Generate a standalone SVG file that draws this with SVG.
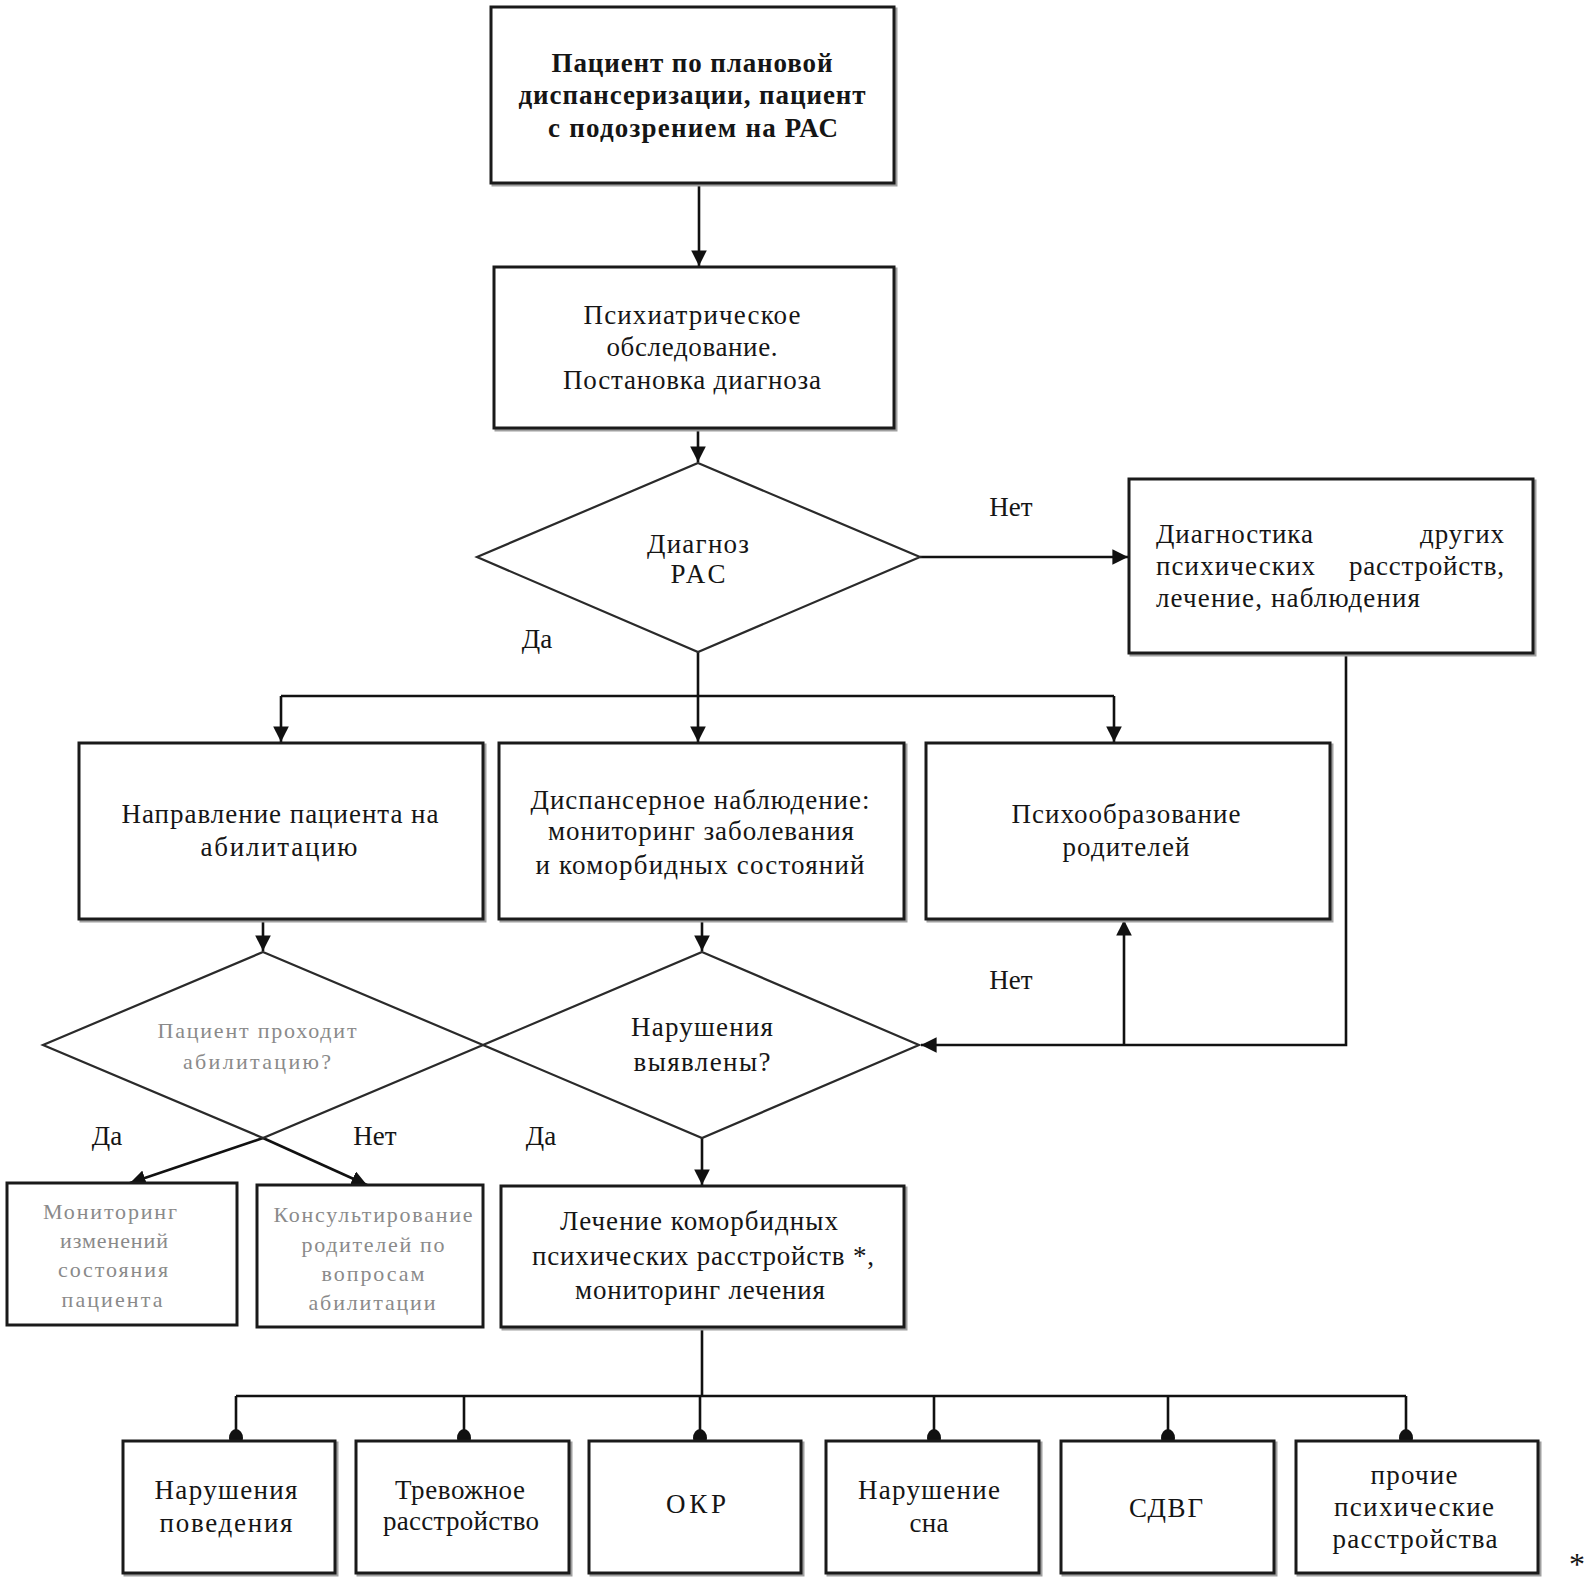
<svg xmlns="http://www.w3.org/2000/svg" width="1590" height="1582" viewBox="0 0 1590 1582">
<style>
.bx{fill:#fff;stroke:#1a1a1a;stroke-width:3}
.sh{fill:none;stroke:#a0a0a0;stroke-width:3}
.dm{fill:none;stroke:#2a2a2a;stroke-width:2.2}
.ln{fill:none;stroke:#111;stroke-width:2.6}
.t{font-family:"Liberation Serif","Times New Roman",serif;font-size:27px;fill:#151515;text-anchor:middle}
.l{text-anchor:start}
.r{text-anchor:end}
.b{font-weight:bold}
.g{font-size:22px;fill:#8a8a8a}
</style>
<defs>
<marker id="ah" viewBox="0 0 10 10" refX="10" refY="5" markerWidth="6" markerHeight="6" markerUnits="strokeWidth" orient="auto">
<path d="M0,0 L10,5 L0,10 Z" fill="#111"/>
</marker>
</defs>

<g id="connectors">
<line class="ln" x1="699" y1="183" x2="699" y2="266" marker-end="url(#ah)"/>
<line class="ln" x1="698" y1="428" x2="698" y2="462" marker-end="url(#ah)"/>
<line class="ln" x1="920" y1="557" x2="1128" y2="557" marker-end="url(#ah)"/>
<line class="ln" x1="698" y1="652" x2="698" y2="696"/>
<line class="ln" x1="281" y1="696" x2="1114" y2="696"/>
<line class="ln" x1="281" y1="696" x2="281" y2="742" marker-end="url(#ah)"/>
<line class="ln" x1="698" y1="696" x2="698" y2="742" marker-end="url(#ah)"/>
<line class="ln" x1="1114" y1="696" x2="1114" y2="742" marker-end="url(#ah)"/>
<polyline class="ln" points="1346,653 1346,1045 921,1045" marker-end="url(#ah)"/>
<line class="ln" x1="1124" y1="1045" x2="1124" y2="920" marker-end="url(#ah)"/>
<line class="ln" x1="263" y1="919" x2="263" y2="951" marker-end="url(#ah)"/>
<line class="ln" x1="702" y1="919" x2="702" y2="951" marker-end="url(#ah)"/>
<line class="ln" x1="263" y1="1138" x2="130" y2="1183" marker-end="url(#ah)"/>
<line class="ln" x1="263" y1="1138" x2="367" y2="1185" marker-end="url(#ah)"/>
<line class="ln" x1="702" y1="1138" x2="702" y2="1185" marker-end="url(#ah)"/>
<line class="ln" x1="702" y1="1327" x2="702" y2="1396"/>
<line class="ln" x1="236" y1="1396" x2="1406" y2="1396"/>
<line class="ln" x1="236" y1="1396" x2="236" y2="1441"/>
<line class="ln" x1="464" y1="1396" x2="464" y2="1441"/>
<line class="ln" x1="700" y1="1396" x2="700" y2="1441"/>
<line class="ln" x1="934" y1="1396" x2="934" y2="1441"/>
<line class="ln" x1="1168" y1="1396" x2="1168" y2="1441"/>
<line class="ln" x1="1406" y1="1396" x2="1406" y2="1441"/>
<g fill="#111">
<ellipse cx="236" cy="1438" rx="7" ry="9"/>
<ellipse cx="464" cy="1438" rx="7" ry="9"/>
<ellipse cx="700" cy="1438" rx="7" ry="9"/>
<ellipse cx="934" cy="1438" rx="7" ry="9"/>
<ellipse cx="1168" cy="1438" rx="7" ry="9"/>
<ellipse cx="1406" cy="1438" rx="7" ry="9"/>
</g>
<text class="t" x="1011" y="516">Нет</text>
<text class="t" x="537" y="648">Да</text>
<text class="t" x="1011" y="989">Нет</text>
<text class="t" x="107" y="1145">Да</text>
<text class="t" x="375" y="1145">Нет</text>
<text class="t" x="541" y="1145">Да</text>
</g>

<g id="n-start">
<rect class="sh" x="493" y="9" width="403" height="176"/>
<rect class="bx" x="491" y="7" width="403" height="176"/>
<text class="t b" x="692" y="72" textLength="281">Пациент по плановой</text>
<text class="t b" x="692" y="104" textLength="347">диспансеризации, пациент</text>
<text class="t b" x="693" y="137" textLength="290">с подозрением на РАС</text>
</g>

<g id="n-exam">
<rect class="sh" x="496" y="269" width="400" height="161"/>
<rect class="bx" x="494" y="267" width="400" height="161"/>
<text class="t" x="692" y="324" textLength="217">Психиатрическое</text>
<text class="t" x="692" y="356" textLength="171">обследование.</text>
<text class="t" x="692" y="389" textLength="258">Постановка диагноза</text>
</g>

<g id="n-dx">
<polygon class="dm" points="698,463 920,557 698,652 477,557"/>
<text class="t" x="698" y="553" textLength="102">Диагноз</text>
<text class="t" x="698" y="583" textLength="55">РАС</text>
</g>

<g id="n-other">
<rect class="sh" x="1131" y="481" width="404" height="174"/>
<rect class="bx" x="1129" y="479" width="404" height="174"/>
<text class="t l" x="1156" y="543" textLength="157">Диагностика</text>
<text class="t r" x="1504" y="543" textLength="84">других</text>
<text class="t l" x="1156" y="575" textLength="159">психических</text>
<text class="t r" x="1504" y="575" textLength="155">расстройств,</text>
<text class="t l" x="1156" y="607" textLength="264">лечение, наблюдения</text>
</g>

<g id="n-habil">
<rect class="sh" x="81" y="745" width="404" height="176"/>
<rect class="bx" x="79" y="743" width="404" height="176"/>
<text class="t" x="280" y="823" textLength="317">Направление пациента на</text>
<text class="t" x="279" y="856" textLength="157">абилитацию</text>
</g>

<g id="n-observe">
<rect class="sh" x="501" y="745" width="405" height="176"/>
<rect class="bx" x="499" y="743" width="405" height="176"/>
<text class="t" x="700" y="809" textLength="339">Диспансерное наблюдение:</text>
<text class="t" x="701" y="840" textLength="306">мониторинг заболевания</text>
<text class="t" x="700" y="874" textLength="329">и коморбидных состояний</text>
</g>

<g id="n-psychoed">
<rect class="sh" x="928" y="745" width="404" height="176"/>
<rect class="bx" x="926" y="743" width="404" height="176"/>
<text class="t" x="1126" y="823" textLength="229">Психообразование</text>
<text class="t" x="1126" y="856" textLength="127">родителей</text>
</g>

<g id="n-habq">
<polygon class="dm" points="263,952 483,1045 263,1138 43,1045"/>
<text class="t g" x="257" y="1038" textLength="199">Пациент проходит</text>
<text class="t g" x="257" y="1069" textLength="148">абилитацию?</text>
</g>

<g id="n-disq">
<polygon class="dm" points="702,952 919,1045 702,1138 483,1045"/>
<text class="t" x="702" y="1036" textLength="142">Нарушения</text>
<text class="t" x="702" y="1071" textLength="137">выявлены?</text>
</g>

<g id="n-monitor">
<rect class="bx" x="7" y="1183" width="230" height="142"/>
<text class="t g" x="110" y="1219" textLength="134">Мониторинг</text>
<text class="t g" x="114" y="1248" textLength="108">изменений</text>
<text class="t g" x="113" y="1277" textLength="110">состояния</text>
<text class="t g" x="112" y="1307" textLength="101">пациента</text>
</g>

<g id="n-consult">
<rect class="bx" x="257" y="1185" width="226" height="142"/>
<text class="t g" x="373" y="1222" textLength="199">Консультирование</text>
<text class="t g" x="373" y="1252" textLength="143">родителей по</text>
<text class="t g" x="373" y="1281" textLength="103">вопросам</text>
<text class="t g" x="372" y="1310" textLength="127">абилитации</text>
</g>

<g id="n-treat">
<rect class="sh" x="503" y="1188" width="403" height="141"/>
<rect class="bx" x="501" y="1186" width="403" height="141"/>
<text class="t" x="699" y="1230" textLength="278">Лечение коморбидных</text>
<text class="t" x="703" y="1265" textLength="342">психических расстройств *,</text>
<text class="t" x="700" y="1299" textLength="250">мониторинг лечения</text>
</g>

<g id="n-behav">
<rect class="sh" x="125" y="1443" width="212" height="132"/>
<rect class="bx" x="123" y="1441" width="212" height="132"/>
<text class="t" x="226" y="1499" textLength="143">Нарушения</text>
<text class="t" x="226" y="1532" textLength="133">поведения</text>
</g>

<g id="n-anx">
<rect class="sh" x="358" y="1443" width="213" height="132"/>
<rect class="bx" x="356" y="1441" width="213" height="132"/>
<text class="t" x="460" y="1499" textLength="130">Тревожное</text>
<text class="t" x="461" y="1530" textLength="156">расстройство</text>
</g>

<g id="n-ocd">
<rect class="sh" x="591" y="1443" width="212" height="132"/>
<rect class="bx" x="589" y="1441" width="212" height="132"/>
<text class="t" x="696" y="1513" textLength="60">ОКР</text>
</g>

<g id="n-sleep">
<rect class="sh" x="828" y="1443" width="213" height="132"/>
<rect class="bx" x="826" y="1441" width="213" height="132"/>
<text class="t" x="929" y="1499" textLength="142">Нарушение</text>
<text class="t" x="929" y="1532" textLength="39">сна</text>
</g>

<g id="n-adhd">
<rect class="sh" x="1063" y="1443" width="213" height="132"/>
<rect class="bx" x="1061" y="1441" width="213" height="132"/>
<text class="t" x="1166" y="1517" textLength="74">СДВГ</text>
</g>

<g id="n-other2">
<rect class="sh" x="1298" y="1443" width="242" height="132"/>
<rect class="bx" x="1296" y="1441" width="242" height="132"/>
<text class="t" x="1414" y="1484" textLength="87">прочие</text>
<text class="t" x="1414" y="1516" textLength="160">психические</text>
<text class="t" x="1415" y="1548" textLength="165">расстройства</text>
</g>

<text class="t" x="1577" y="1575" style="font-size:32px">*</text>
</svg>
